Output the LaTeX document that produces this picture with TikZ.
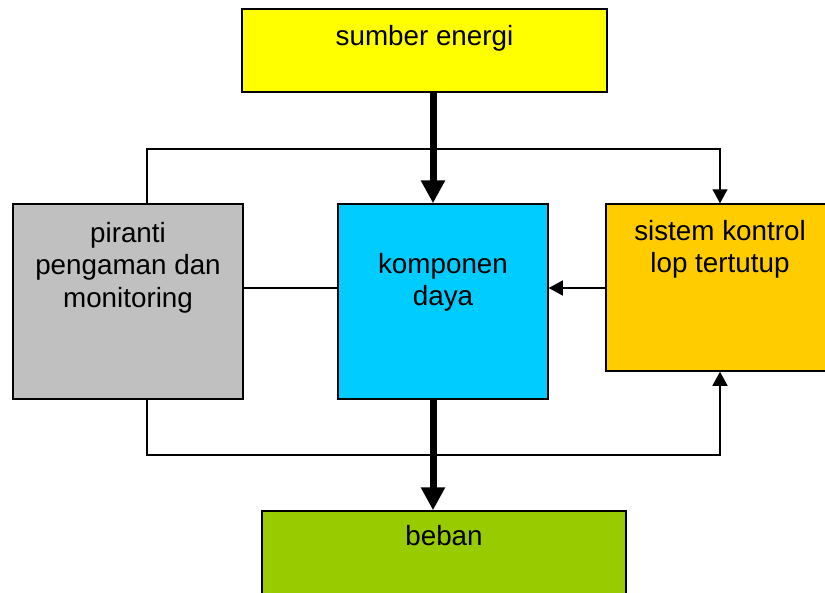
\documentclass[tikz,border=0pt]{standalone}
\usepackage{fontspec}
\setmainfont{Liberation Sans}
\usetikzlibrary{arrows.meta}
\definecolor{cyellow}{HTML}{FFFF00}
\definecolor{cgray}{HTML}{C0C0C0}
\definecolor{ccyan}{HTML}{00CCFF}
\definecolor{corange}{HTML}{FFCC00}
\definecolor{cgreen}{HTML}{99CC00}
\begin{document}
\begin{tikzpicture}[x=1pt,y=-1pt,
  box/.style={draw=black,line width=1.5pt},
  lbl/.style={anchor=north,inner sep=0pt,align=center,font=\fontsize{27.8}{32.5}\selectfont},
  thin/.style={line width=1.4pt,-{Triangle[width=15pt,length=14pt]}},
  plain/.style={line width=1.4pt},
  thick/.style={line width=7pt,-{Triangle[width=23pt,length=23pt]}}]
\useasboundingbox (0,0) rectangle (825,592);
\clip (0,0) rectangle (825,592);
\fill[white] (0,0) rectangle (825,592);
% boxes
\node[box,fill=cyellow,minimum width=365pt,minimum height=83pt,inner sep=0pt] (sumber) at (424.5,50.5) {};
\node[box,fill=cgray,minimum width=230pt,minimum height=195pt,inner sep=0pt] (pir) at (128,301.5) {};
\node[box,fill=ccyan,minimum width=210pt,minimum height=195pt,inner sep=0pt] (komp) at (443,301.5) {};
\node[box,fill=corange,minimum width=228pt,minimum height=167pt,inner sep=0pt] (sis) at (720,287.5) {};
\node[box,fill=cgreen,minimum width=364pt,minimum height=100pt,inner sep=0pt] (beban) at (444,561) {};
% labels
\node[lbl] (tsumber) at (424.5,25) {sumber energi};
\node[lbl] (tpir) at (128,222) {piranti\\pengaman dan\\monitoring};
\node[lbl] (tkomp) at (443,253) {komponen\\daya};
\node[lbl] (tsis) at (720,220) {sistem kontrol\\lop tertutup};
\node[lbl] (tbeban) at (444,525) {beban};
% helper coordinates
\coordinate (ax) at (433,0);
\coordinate (px) at (147,0);
\coordinate (topy) at (0,149);
\coordinate (boty) at (0,455);
\coordinate (midy) at (0,288);
% connectors
\draw[thick] (sumber.south -| ax) -- (komp.north -| ax);
\draw[thick] (komp.south -| ax) -- (beban.north -| ax);
\draw[thin] (pir.north -| px) -- (topy -| px) -- (topy -| sis.north) -- (sis.north);
\draw[thin] (pir.south -| px) -- (boty -| px) -- (boty -| sis.south) -- (sis.south);
\draw[plain] (pir.east |- midy) -- (komp.west |- midy);
\draw[thin] (sis.west |- midy) -- (komp.east |- midy);
\end{tikzpicture}
\end{document}
